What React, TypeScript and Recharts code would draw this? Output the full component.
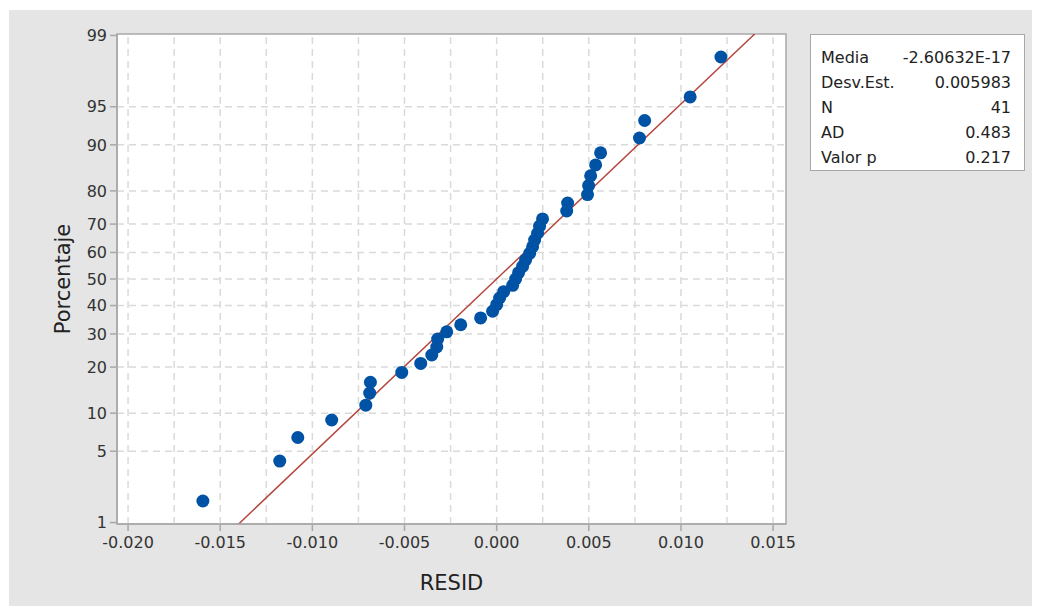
import React from 'react';
import { ScatterChart, Scatter, XAxis, YAxis, ReferenceLine, ReferenceArea } from 'recharts';

// residual values, sorted, and the plotting percentile of each
const residVals = [
  -0.01594, -0.01177, -0.01079, -0.00895, -0.0071, -0.00689, -0.00685, -0.00515, -0.00412, -0.00352,
  -0.00325, -0.0032, -0.00271, -0.00195, -0.00087, -0.00022, 0.0, 0.00016, 0.00038, 0.00087,
  0.00103, 0.00119, 0.00141, 0.00157, 0.00179, 0.00195, 0.00206, 0.00222, 0.00233, 0.00249,
  0.0038, 0.00385, 0.00493, 0.00499, 0.0051, 0.00537, 0.00564, 0.00775, 0.00803, 0.0105, 0.01217,
];
const residPct = [
  1.7, 4.1, 6.5, 8.9, 11.4, 13.8, 16.2, 18.6, 21.0, 23.4,
  25.8, 28.3, 30.7, 33.1, 35.5, 37.9, 40.3, 42.8, 45.2, 47.6,
  50.0, 52.4, 54.8, 57.2, 59.7, 62.1, 64.5, 66.9, 69.3, 71.7,
  74.2, 76.6, 79.0, 81.4, 83.8, 86.2, 88.6, 91.1, 93.5, 95.9, 98.3,
];

const xTicks = [-0.02, -0.015, -0.01, -0.005, 0, 0.005, 0.01, 0.015];
const xGrid = [-0.02, -0.0175, -0.015, -0.0125, -0.01, -0.0075, -0.005, -0.0025, 0, 0.0025, 0.005, 0.0075, 0.01, 0.0125, 0.015];
const yTickPct = [1, 5, 10, 20, 30, 40, 50, 60, 70, 80, 90, 95, 99];
const yGridPct = [5, 10, 20, 30, 40, 50, 60, 70, 80, 90, 95];

const statLabels = ['Media', 'Desv.Est.', 'N', 'AD', 'Valor p'];
const statValues = ['-2.60632E-17', '0.005983', '41', '0.483', '0.217'];
const fitMean = -2.60632e-17;
const fitSd = 0.005983;

const X_DOMAIN: [number, number] = [-0.0206, 0.0157];
const Y_DOMAIN: [number, number] = [-2.34, 2.34];

// inverse standard normal cdf (Acklam) - maps percent to the probability axis
function probit(p: number): number {
  const a = [-39.69683028665376, 220.9460984245205, -275.9285104469687, 138.357751867269, -30.66479806614716, 2.506628277459239];
  const b = [-54.47609879822406, 161.5858368580409, -155.6989798598866, 66.80131188771972, -13.28068155288572];
  const c = [-0.007784894002430293, -0.3223964580411365, -2.400758277161838, -2.549671743067257, 4.374664141464968, 2.938163982698783];
  const d = [0.007784695709041462, 0.3224671290700398, 2.445134137142996, 3.754408661907416];
  const pl = 0.02425;
  if (p < pl) {
    const q = Math.sqrt(-2 * Math.log(p));
    return (((((c[0] * q + c[1]) * q + c[2]) * q + c[3]) * q + c[4]) * q + c[5]) / ((((d[0] * q + d[1]) * q + d[2]) * q + d[3]) * q + 1);
  }
  if (p > 1 - pl) {
    const q = Math.sqrt(-2 * Math.log(1 - p));
    return -(((((c[0] * q + c[1]) * q + c[2]) * q + c[3]) * q + c[4]) * q + c[5]) / ((((d[0] * q + d[1]) * q + d[2]) * q + d[3]) * q + 1);
  }
  const q = p - 0.5;
  const r = q * q;
  return (((((a[0] * r + a[1]) * r + a[2]) * r + a[3]) * r + a[4]) * r + a[5]) * q / (((((b[0] * r + b[1]) * r + b[2]) * r + b[3]) * r + b[4]) * r + 1);
}

const points = residVals.map((x, i) => ({ x, z: probit(residPct[i] / 100) }));
const yTicks = yTickPct.map(p => probit(p / 100));
const fitSegment = [
  { x: fitMean + fitSd * Y_DOMAIN[0], y: Y_DOMAIN[0] },
  { x: fitMean + fitSd * Y_DOMAIN[1], y: Y_DOMAIN[1] },
];

const FONT = '"DejaVu Sans", sans-serif';
const tickStyle = { fontSize: 16, fill: '#333', fontFamily: FONT };
const gridColor = '#dadada';
const frameColor = '#a8a8a8';

const yLabel = (v: number) => {
  let best = 0;
  yTicks.forEach((t, i) => { if (Math.abs(t - v) < Math.abs(yTicks[best] - v)) best = i; });
  return String(yTickPct[best]);
};

const Dot = (props: any) => <circle cx={props.cx} cy={props.cy} r={6.5} fill="#0052a5" />;

export default function App() {
  return (
    <div style={{ paddingLeft: 1, paddingTop: 2, marginBottom: -8, marginRight: -8 }}>
      <div style={{ position: 'relative', width: 1031, height: 604, background: '#e5e5e5', fontFamily: FONT }}>
        <ScatterChart width={1031} height={604} margin={{ top: 24, right: 254, left: 0, bottom: 10 }}>
          <ReferenceArea x1={X_DOMAIN[0]} x2={X_DOMAIN[1]} y1={Y_DOMAIN[0]} y2={Y_DOMAIN[1]} fill="#ffffff" fillOpacity={1} stroke={frameColor} strokeWidth={1.5} ifOverflow="visible" />
          {xGrid.map(v => (
            <ReferenceLine key={'gx' + v} x={v} stroke={gridColor} strokeWidth={1.5} strokeDasharray="7 5" />
          ))}
          {yGridPct.map(p => (
            <ReferenceLine key={'gy' + p} y={probit(p / 100)} stroke={gridColor} strokeWidth={1.5} strokeDasharray="7 5" />
          ))}
          <XAxis
            type="number"
            dataKey="x"
            domain={X_DOMAIN}
            ticks={xTicks}
            allowDataOverflow
            height={80}
            tickSize={7}
            tickMargin={6}
            tick={tickStyle}
            tickFormatter={(v: number) => v.toFixed(3)}
            axisLine={{ stroke: frameColor, strokeWidth: 1.5 }}
            tickLine={{ stroke: frameColor, strokeWidth: 1.5 }}
            label={{ value: 'RESID', position: 'insideBottom', offset: 14, fontSize: 21, fill: '#222', fontFamily: FONT }}
          />
          <YAxis
            type="number"
            dataKey="z"
            domain={Y_DOMAIN}
            ticks={yTicks}
            allowDataOverflow
            width={108}
            tickSize={7}
            tickMargin={3}
            tick={tickStyle}
            tickFormatter={yLabel}
            axisLine={{ stroke: frameColor, strokeWidth: 1.5 }}
            tickLine={{ stroke: frameColor, strokeWidth: 1.5 }}
            label={{ value: 'Porcentaje', angle: -90, position: 'center', fontSize: 21, fill: '#222', fontFamily: FONT }}
          />
          <ReferenceLine segment={fitSegment} stroke="#b5473f" strokeWidth={1.5} ifOverflow="hidden" />
          <Scatter data={points} shape={Dot} isAnimationActive={false} />
        </ScatterChart>
        <div
          style={{
            position: 'absolute', left: 801, top: 24, width: 215, height: 137,
            background: '#fff', border: '1px solid #a8a8a8', padding: '10px 13px 0 10px',
            boxSizing: 'border-box', fontSize: 16, color: '#222',
          }}
        >
          {statLabels.map((l, i) => (
            <div key={l} style={{ display: 'flex', justifyContent: 'space-between', height: 25, lineHeight: '25px' }}>
              <span>{l}</span>
              <span>{statValues[i]}</span>
            </div>
          ))}
        </div>
      </div>
    </div>
  );
}
